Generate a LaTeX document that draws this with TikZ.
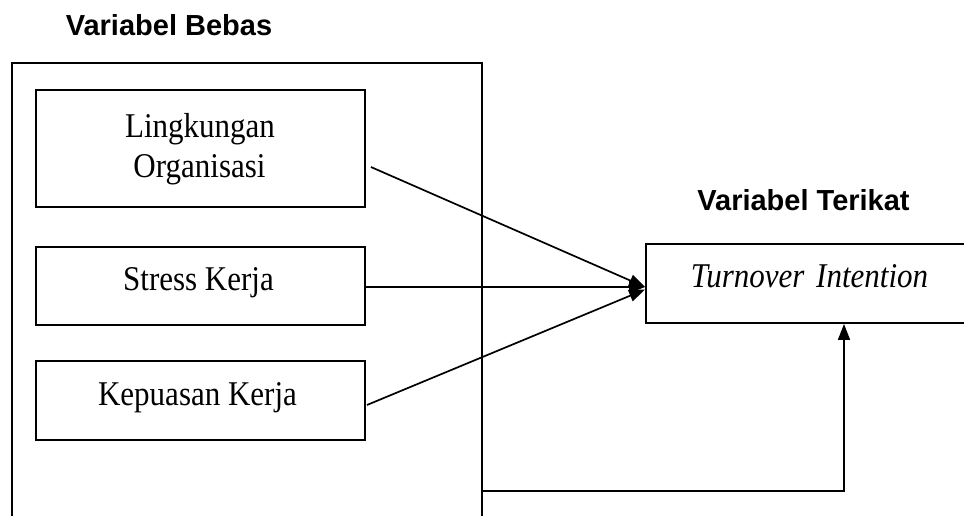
\documentclass[tikz,border=0pt]{standalone}
\usepackage{fontspec}
\setmainfont{Liberation Serif}
\newfontfamily\headfont{Liberation Sans}
\usetikzlibrary{arrows.meta,calc}
\begin{document}
\begin{tikzpicture}[x=1pt,y=-1pt,
  frame/.style={draw,line width=1.7pt,inner sep=0pt},
  box/.style={draw,line width=1.9pt,inner sep=0pt,minimum width=329pt},
  txt/.style={anchor=base,inner sep=0pt,font=\fontsize{31}{36}\selectfont},
  head/.style={anchor=base,inner sep=0pt,font=\headfont\bfseries\fontsize{29}{34}\selectfont},
  arr/.style={line width=1.7pt,-{Triangle[length=16pt,width=12pt]}}]
\useasboundingbox (0,0) rectangle (964,515);
\clip (0,0) rectangle (964,515);
% outer frame (bottom lies below the picture)
\node[frame,minimum width=470pt,minimum height=482pt] (outer) at (247,304) {};
% boxes
\node[box,minimum height=117pt] (ling) at (200.5,148.5) {};
\node[box,minimum height=78pt] (stress) at (200.5,286) {};
\node[box,minimum height=79pt] (kep) at (200.5,400.5) {};
\node[box,minimum width=327pt,minimum height=79pt] (turn) at (809.5,283.5) {};
% texts
\node[head] (hb) at (169,35.5) {Variabel Bebas};
\node[head] (ht) at (803.5,210) {Variabel Terikat};
\node[txt] (lingA) at (200,137) {\scalebox{1}[1.12]{Lingkungan}};
\node[txt] (lingB) at (199.5,177) {\scalebox{1}[1.12]{Organisasi}};
\node[txt] (stressT) at (198.5,290) {\scalebox{1}[1.12]{Stress Kerja}};
\node[txt] (kepT) at (197.5,405) {\scalebox{1}[1.12]{Kepuasan Kerja}};
\node[txt] (turnT) at (809.5,287) {\scalebox{1}[1.12]{\itshape Turnover\hspace{4pt} Intention}};
% connectors
\draw[arr] ([xshift=5pt,yshift=-18.5pt]ling.east) -- ([yshift=-3.5pt]turn.west);
\draw[arr] ([yshift=-1pt]stress.east) -- ([yshift=-3.5pt]turn.west);
\draw[arr] ([xshift=1pt,yshift=-4.5pt]kep.east) -- ([yshift=-6pt]turn.west);
\coordinate (fb) at (482,491);
\draw[arr] (fb) -| ([xshift=34.5pt]turn.south);
\end{tikzpicture}
\end{document}
